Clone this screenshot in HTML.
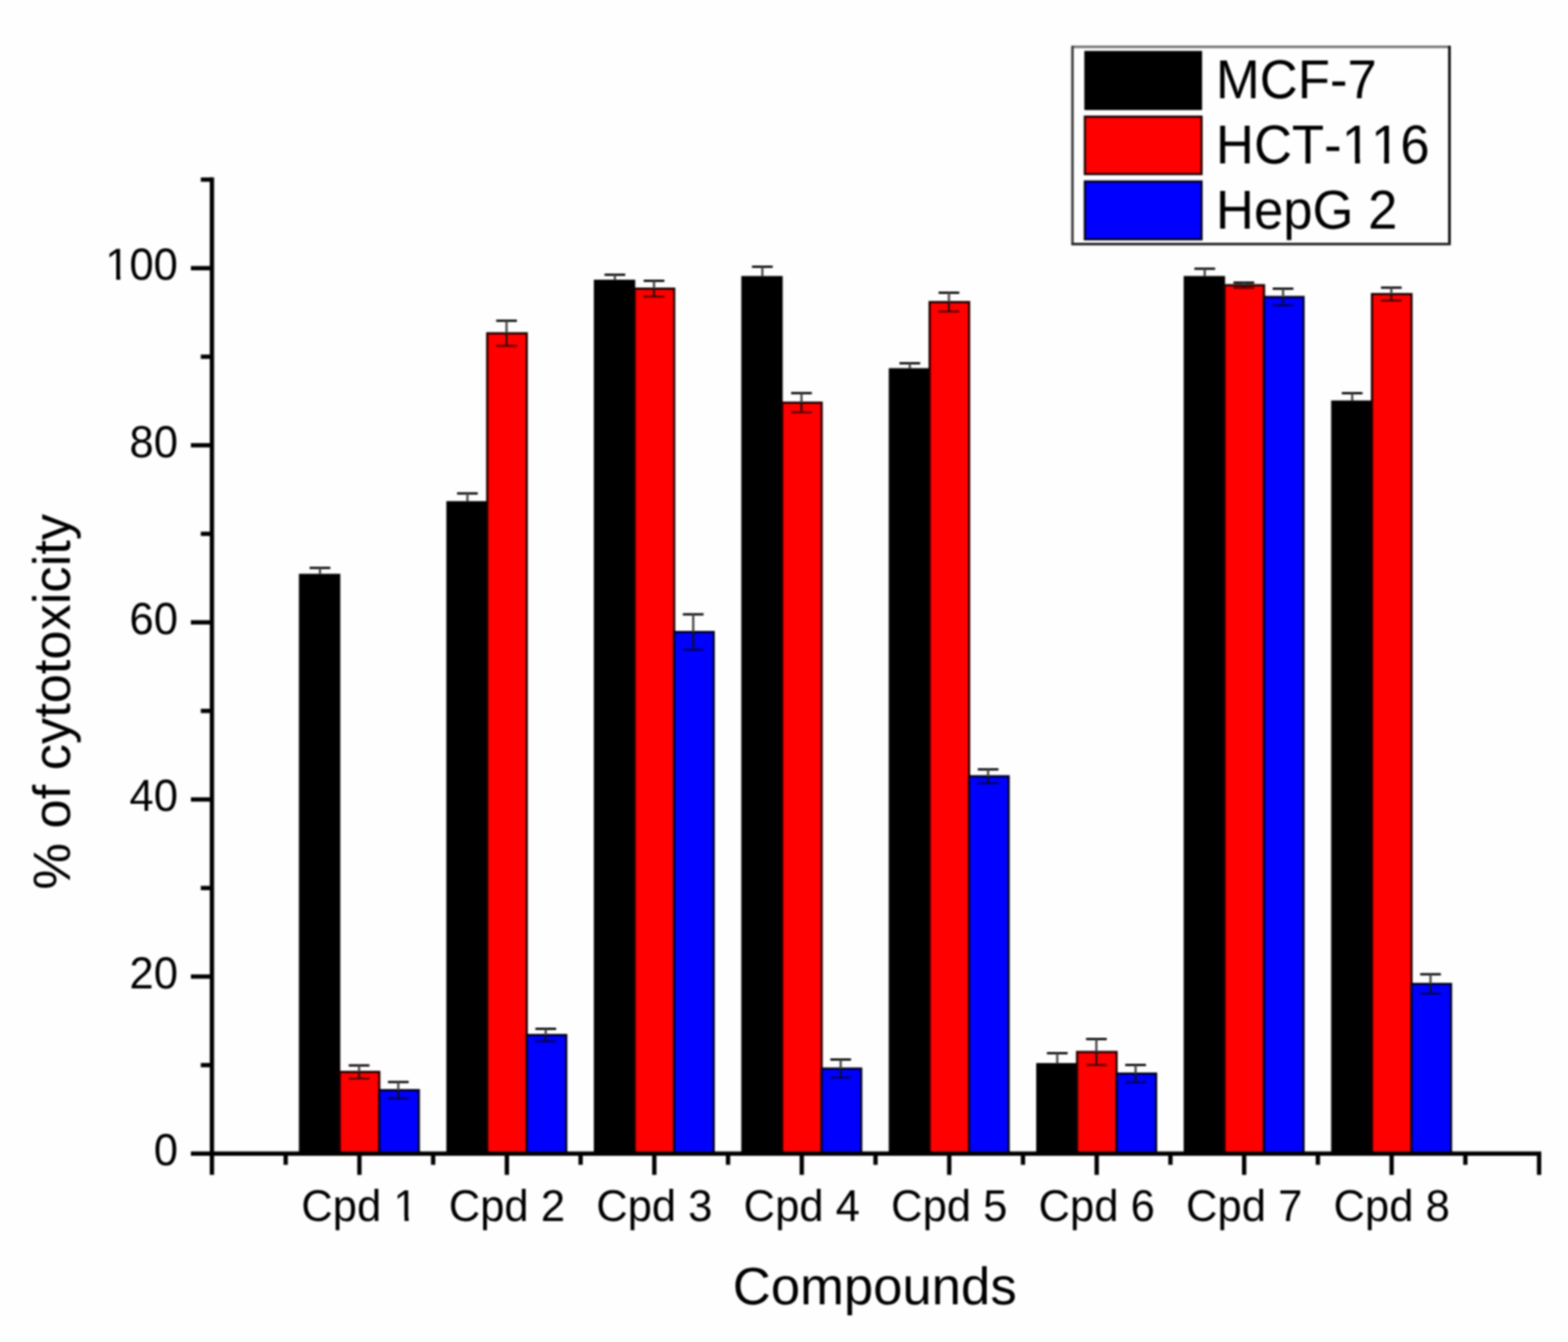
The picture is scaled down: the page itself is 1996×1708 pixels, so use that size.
<!DOCTYPE html>
<html lang="en">
<head>
<meta charset="utf-8">
<title>Cytotoxicity of compounds</title>
<style>
html,body{margin:0;padding:0;background:#fefefe;}
body{width:1996px;height:1708px;overflow:hidden;}
svg{display:block;font-kerning:none;text-rendering:geometricPrecision;font-family:"Liberation Sans",sans-serif;fill:#000;}
</style>
</head>
<body>
<svg width="1996" height="1708" viewBox="0 0 1996 1708">
<defs>
<filter id="soft" filterUnits="userSpaceOnUse" x="0" y="0" width="1996" height="1708" color-interpolation-filters="sRGB"><feGaussianBlur stdDeviation="1"/></filter>
</defs>
<g filter="url(#soft)">
<rect x="0" y="0" width="1996" height="1708" fill="#fefefe"/>
<g id="bars">
<rect x="381.21" y="731" width="51.3" height="737.3" fill="#000000" stroke="#000000" stroke-width="1.4"/>
<rect x="432.51" y="1364.3" width="50.3" height="104" fill="#ff0000" stroke="#200000" stroke-width="2.8"/>
<rect x="482.81" y="1387.5" width="50.3" height="80.8" fill="#0000ff" stroke="#000020" stroke-width="2.8"/>
<rect x="568.92" y="638.5" width="51.3" height="829.8" fill="#000000" stroke="#000000" stroke-width="1.4"/>
<rect x="620.22" y="424.2" width="50.3" height="1044.1" fill="#ff0000" stroke="#200000" stroke-width="2.8"/>
<rect x="670.52" y="1317.3" width="50.3" height="151" fill="#0000ff" stroke="#000020" stroke-width="2.8"/>
<rect x="756.63" y="356.7" width="51.3" height="1111.6" fill="#000000" stroke="#000000" stroke-width="1.4"/>
<rect x="807.93" y="367.4" width="50.3" height="1100.9" fill="#ff0000" stroke="#200000" stroke-width="2.8"/>
<rect x="858.23" y="804.4" width="50.3" height="663.9" fill="#0000ff" stroke="#000020" stroke-width="2.8"/>
<rect x="944.34" y="352" width="51.3" height="1116.3" fill="#000000" stroke="#000000" stroke-width="1.4"/>
<rect x="995.64" y="512.5" width="50.3" height="955.8" fill="#ff0000" stroke="#200000" stroke-width="2.8"/>
<rect x="1045.94" y="1360" width="50.3" height="108.3" fill="#0000ff" stroke="#000020" stroke-width="2.8"/>
<rect x="1132.05" y="469.3" width="51.3" height="999" fill="#000000" stroke="#000000" stroke-width="1.4"/>
<rect x="1183.35" y="384.5" width="50.3" height="1083.8" fill="#ff0000" stroke="#200000" stroke-width="2.8"/>
<rect x="1233.65" y="988" width="50.3" height="480.3" fill="#0000ff" stroke="#000020" stroke-width="2.8"/>
<rect x="1319.76" y="1353.7" width="51.3" height="114.6" fill="#000000" stroke="#000000" stroke-width="1.4"/>
<rect x="1371.06" y="1338.9" width="50.3" height="129.4" fill="#ff0000" stroke="#200000" stroke-width="2.8"/>
<rect x="1421.36" y="1366.4" width="50.3" height="101.9" fill="#0000ff" stroke="#000020" stroke-width="2.8"/>
<rect x="1507.47" y="352" width="51.3" height="1116.3" fill="#000000" stroke="#000000" stroke-width="1.4"/>
<rect x="1558.77" y="363" width="50.3" height="1105.3" fill="#ff0000" stroke="#200000" stroke-width="2.8"/>
<rect x="1609.07" y="378" width="50.3" height="1090.3" fill="#0000ff" stroke="#000020" stroke-width="2.8"/>
<rect x="1695.18" y="510.4" width="51.3" height="957.9" fill="#000000" stroke="#000000" stroke-width="1.4"/>
<rect x="1746.48" y="374.3" width="50.3" height="1094" fill="#ff0000" stroke="#200000" stroke-width="2.8"/>
<rect x="1796.78" y="1252.3" width="50.3" height="216" fill="#0000ff" stroke="#000020" stroke-width="2.8"/>
</g>
<g id="errs" stroke="#000" stroke-width="2.8" fill="none">
<path d="M394.11 722.8H420.51"/><path stroke="#444" stroke-width="2.8" d="M407.31 722.8V731"/>
<path d="M443.91 1356H470.31"/><path stroke-opacity=".6" d="M443.91 1372.6H470.31"/><path stroke="#444" stroke-width="2.8" d="M457.11 1356V1364.3"/><path stroke="#111" stroke-width="2.4" d="M457.11 1364.3V1372.6"/>
<path d="M493.81 1377.1H520.21"/><path stroke-opacity=".6" d="M493.81 1397.9H520.21"/><path stroke="#444" stroke-width="2.8" d="M507.01 1377.1V1387.5"/><path stroke="#111" stroke-width="2.4" d="M507.01 1387.5V1397.9"/>
<path d="M581.82 628H608.22"/><path stroke="#444" stroke-width="2.8" d="M595.02 628V638.5"/>
<path d="M631.62 408.2H658.02"/><path stroke-opacity=".6" d="M631.62 440.2H658.02"/><path stroke="#444" stroke-width="2.8" d="M644.82 408.2V424.2"/><path stroke="#111" stroke-width="2.4" d="M644.82 424.2V440.2"/>
<path d="M681.52 1309.4H707.92"/><path stroke-opacity=".6" d="M681.52 1325.2H707.92"/><path stroke="#444" stroke-width="2.8" d="M694.72 1309.4V1317.3"/><path stroke="#111" stroke-width="2.4" d="M694.72 1317.3V1325.2"/>
<path d="M769.53 349.7H795.93"/><path stroke="#444" stroke-width="2.8" d="M782.73 349.7V356.7"/>
<path d="M819.33 357.4H845.73"/><path stroke-opacity=".6" d="M819.33 377.4H845.73"/><path stroke="#444" stroke-width="2.8" d="M832.53 357.4V367.4"/><path stroke="#111" stroke-width="2.4" d="M832.53 367.4V377.4"/>
<path d="M869.23 781.9H895.63"/><path stroke-opacity=".6" d="M869.23 826.9H895.63"/><path stroke="#444" stroke-width="2.8" d="M882.43 781.9V804.4"/><path stroke="#111" stroke-width="2.4" d="M882.43 804.4V826.9"/>
<path d="M957.24 339.5H983.64"/><path stroke="#444" stroke-width="2.8" d="M970.44 339.5V352"/>
<path d="M1007.04 500.3H1033.44"/><path stroke-opacity=".6" d="M1007.04 524.7H1033.44"/><path stroke="#444" stroke-width="2.8" d="M1020.24 500.3V512.5"/><path stroke="#111" stroke-width="2.4" d="M1020.24 512.5V524.7"/>
<path d="M1056.94 1348.5H1083.34"/><path stroke-opacity=".6" d="M1056.94 1371.5H1083.34"/><path stroke="#444" stroke-width="2.8" d="M1070.14 1348.5V1360"/><path stroke="#111" stroke-width="2.4" d="M1070.14 1360V1371.5"/>
<path d="M1144.95 462.3H1171.35"/><path stroke="#444" stroke-width="2.8" d="M1158.15 462.3V469.3"/>
<path d="M1194.75 372.6H1221.15"/><path stroke-opacity=".6" d="M1194.75 396.4H1221.15"/><path stroke="#444" stroke-width="2.8" d="M1207.95 372.6V384.5"/><path stroke="#111" stroke-width="2.4" d="M1207.95 384.5V396.4"/>
<path d="M1244.65 979.2H1271.05"/><path stroke-opacity=".6" d="M1244.65 996.8H1271.05"/><path stroke="#444" stroke-width="2.8" d="M1257.85 979.2V988"/><path stroke="#111" stroke-width="2.4" d="M1257.85 988V996.8"/>
<path d="M1332.66 1340.4H1359.06"/><path stroke="#444" stroke-width="2.8" d="M1345.86 1340.4V1353.7"/>
<path d="M1382.46 1322.4H1408.86"/><path stroke-opacity=".6" d="M1382.46 1355.4H1408.86"/><path stroke="#444" stroke-width="2.8" d="M1395.66 1322.4V1338.9"/><path stroke="#111" stroke-width="2.4" d="M1395.66 1338.9V1355.4"/>
<path d="M1432.36 1355.4H1458.76"/><path stroke-opacity=".6" d="M1432.36 1377.4H1458.76"/><path stroke="#444" stroke-width="2.8" d="M1445.56 1355.4V1366.4"/><path stroke="#111" stroke-width="2.4" d="M1445.56 1366.4V1377.4"/>
<path d="M1520.37 342H1546.77"/><path stroke="#444" stroke-width="2.8" d="M1533.57 342V352"/>
<path d="M1570.17 359.7H1596.57"/><path stroke-opacity=".6" d="M1570.17 366.3H1596.57"/><path stroke="#444" stroke-width="2.8" d="M1583.37 359.7V363"/><path stroke="#111" stroke-width="2.4" d="M1583.37 363V366.3"/>
<path d="M1620.07 367.4H1646.47"/><path stroke-opacity=".6" d="M1620.07 388.6H1646.47"/><path stroke="#444" stroke-width="2.8" d="M1633.27 367.4V378"/><path stroke="#111" stroke-width="2.4" d="M1633.27 378V388.6"/>
<path d="M1708.08 500.4H1734.48"/><path stroke="#444" stroke-width="2.8" d="M1721.28 500.4V510.4"/>
<path d="M1757.88 366.1H1784.28"/><path stroke-opacity=".6" d="M1757.88 382.5H1784.28"/><path stroke="#444" stroke-width="2.8" d="M1771.08 366.1V374.3"/><path stroke="#111" stroke-width="2.4" d="M1771.08 374.3V382.5"/>
<path d="M1807.78 1240H1834.18"/><path stroke-opacity=".6" d="M1807.78 1264.6H1834.18"/><path stroke="#444" stroke-width="2.8" d="M1820.98 1240V1252.3"/><path stroke="#111" stroke-width="2.4" d="M1820.98 1252.3V1264.6"/>
</g>
<g id="axes" stroke="#000" stroke-width="5.5" fill="none" stroke-linecap="butt">
<path d="M269.8 225.85V1495.3"/>
<path d="M243 1468.3H1961.94"/>
<path d="M255.6 1355.6H269.8"/>
<path d="M243 1242.9H269.8"/>
<path d="M255.6 1130.2H269.8"/>
<path d="M243 1017.5H269.8"/>
<path d="M255.6 904.8H269.8"/>
<path d="M243 792.1H269.8"/>
<path d="M255.6 679.4H269.8"/>
<path d="M243 566.7H269.8"/>
<path d="M255.6 454H269.8"/>
<path d="M243 341.3H269.8"/>
<path d="M255.6 228.6H269.8"/>
<path d="M363.66 1468.3V1482.5"/>
<path d="M457.51 1468.3V1495.3"/>
<path d="M551.37 1468.3V1482.5"/>
<path d="M645.22 1468.3V1495.3"/>
<path d="M739.08 1468.3V1482.5"/>
<path d="M832.93 1468.3V1495.3"/>
<path d="M926.79 1468.3V1482.5"/>
<path d="M1020.64 1468.3V1495.3"/>
<path d="M1114.5 1468.3V1482.5"/>
<path d="M1208.35 1468.3V1495.3"/>
<path d="M1302.2 1468.3V1482.5"/>
<path d="M1396.06 1468.3V1495.3"/>
<path d="M1489.91 1468.3V1482.5"/>
<path d="M1583.77 1468.3V1495.3"/>
<path d="M1677.62 1468.3V1482.5"/>
<path d="M1771.48 1468.3V1495.3"/>
<path d="M1865.34 1468.3V1482.5"/>
<path d="M1959.19 1468.3V1495.3"/>
</g>
<g id="ylabels" font-size="55.5" text-anchor="end">
<text transform="translate(226.5 1483.1) scale(1 1.03)">0</text>
<text transform="translate(226.5 1257.7) scale(1 1.03)">20</text>
<text transform="translate(226.5 1032.3) scale(1 1.03)">40</text>
<text transform="translate(226.5 806.9) scale(1 1.03)">60</text>
<text transform="translate(226.5 581.5) scale(1 1.03)">80</text>
<text transform="translate(226.5 356.1) scale(1 1.03)">100</text>
</g>
<g id="xlabels" font-size="55.5" text-anchor="middle">
<text transform="translate(457.51 1554) scale(1 1.02)">Cpd 1</text>
<text transform="translate(645.22 1554) scale(1 1.02)">Cpd 2</text>
<text transform="translate(832.93 1554) scale(1 1.02)">Cpd 3</text>
<text transform="translate(1020.64 1554) scale(1 1.02)">Cpd 4</text>
<text transform="translate(1208.35 1554) scale(1 1.02)">Cpd 5</text>
<text transform="translate(1396.06 1554) scale(1 1.02)">Cpd 6</text>
<text transform="translate(1583.77 1554) scale(1 1.02)">Cpd 7</text>
<text transform="translate(1771.48 1554) scale(1 1.02)">Cpd 8</text>
</g>
<text id="xtitle" x="1113.5" y="1659.5" font-size="67" text-anchor="middle">Compounds</text>
<text id="ytitle" transform="translate(88.6 893.2) rotate(-90)" font-size="66.7" text-anchor="middle">% of cytotoxicity</text>
<g id="legend">
<rect x="1365.2" y="59.6" width="479.9" height="251" fill="#fefefe"/>
<path d="M1364 59.6H1846.4" stroke="#777" stroke-width="3.2" fill="none"/>
<path d="M1365.2 58.3V312" stroke="#3a3a3a" stroke-width="3.2" fill="none"/>
<path d="M1845.1 58.3V312" stroke="#000" stroke-width="3.2" fill="none"/>
<path d="M1364 310.7H1846.4" stroke="#222" stroke-width="3.2" fill="none"/>
<rect x="1381" y="65.5" width="148.5" height="73.9" fill="#000" stroke="#000" stroke-width="1.4"/>
<rect x="1381" y="148.5" width="148.5" height="73" fill="#ff0000" stroke="#200000" stroke-width="2.8"/>
<rect x="1381" y="231" width="148.5" height="73.5" fill="#0000ff" stroke="#000020" stroke-width="2.8"/>
<text transform="translate(1547.7 125.1) scale(1 1.04)" font-size="67.1">MCF-7</text>
<text transform="translate(1547.7 208.1) scale(1 1.04)" font-size="67.1">HCT-116</text>
<text transform="translate(1547.7 291.1) scale(1 1.04)" font-size="67.1">HepG 2</text>
</g>
<g id="trim" fill="#fefefe">
<rect x="136" y="350.6" width="11.9" height="7.4"/>
<rect x="153.2" y="350.6" width="10.8" height="7.4"/>
<rect x="503" y="1548.6" width="11.9" height="7.4"/>
<rect x="520.2" y="1548.6" width="10.8" height="7.4"/>
<rect x="1711" y="201" width="13.9" height="9"/>
<rect x="1731.2" y="201" width="12.8" height="9"/>
<rect x="1748" y="201" width="13.9" height="9"/>
<rect x="1768.2" y="201" width="12.8" height="9"/>
</g>
</g>
</svg>
</body>
</html>
